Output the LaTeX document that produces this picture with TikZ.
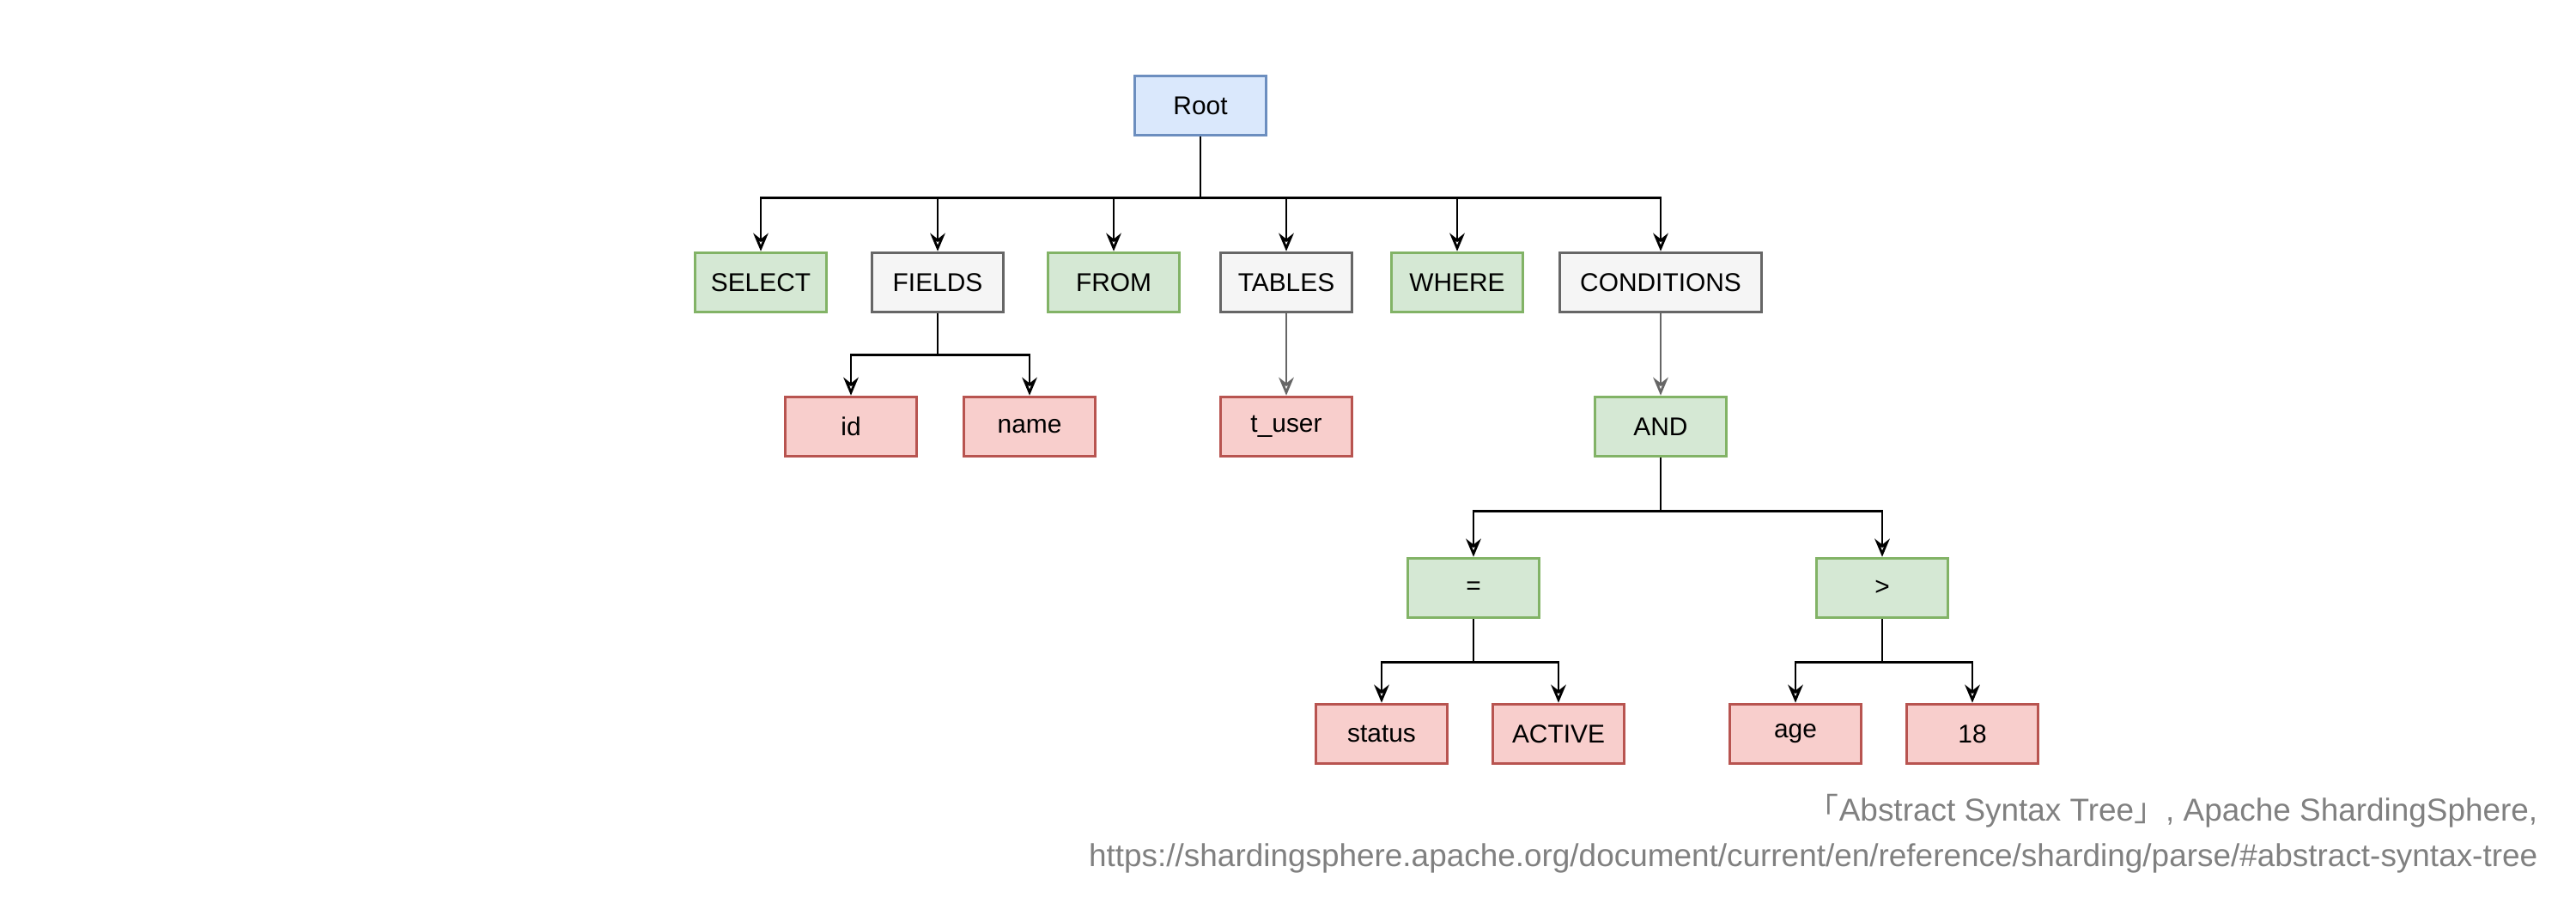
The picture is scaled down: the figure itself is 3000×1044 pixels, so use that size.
\documentclass[tikz,border=0pt]{standalone}
\usepackage{fontspec}
\setmainfont{Liberation Sans}
\newfontfamily\cjk{Noto Sans CJK JP}
\usetikzlibrary{arrows.meta}
\definecolor{bF}{HTML}{DAE8FC}\definecolor{bD}{HTML}{6C8EBF}
\definecolor{gF}{HTML}{D5E8D4}\definecolor{gD}{HTML}{82B366}
\definecolor{wF}{HTML}{F5F5F5}\definecolor{wD}{HTML}{666666}
\definecolor{rF}{HTML}{F8CECC}\definecolor{rD}{HTML}{B85450}
\definecolor{cap}{HTML}{808080}
\begin{document}
\begin{tikzpicture}[x=0.01cm,y=-0.01cm,
 box/.style={draw,line width=1pt,minimum width=1.53cm,minimum height=0.69cm,inner sep=2pt,font=\fontsize{8.5}{10}\selectfont},
 blu/.style={box,fill=bF,draw=bD},
 grn/.style={box,fill=gF,draw=gD},
 gry/.style={box,fill=wF,draw=wD},
 red/.style={box,fill=rF,draw=rD},
 ar/.style={-{Stealth[open,length=6pt,width=5pt]},line width=0.8pt,black},
 ag/.style={ar,draw=wD}]
\useasboundingbox (0,0) rectangle (3000,1044);
\node[blu] (root) at (1398,123) {Root};
\node[grn] (sel) at (886,329) {SELECT};
\node[gry] (fld) at (1092,329) {FIELDS};
\node[grn] (frm) at (1297,329) {FROM};
\node[gry] (tab) at (1498,329) {TABLES};
\node[grn] (whr) at (1697,329) {WHERE};
\node[gry,minimum width=2.35cm] (cnd) at (1934,329) {CONDITIONS};
\node[red] (id) at (991,497) {id};
\node[red] (nm) at (1199,497) {name};
\node[red] (tu) at (1498,497) {t\_user};
\node[grn] (and) at (1934,497) {AND};
\node[grn] (eq) at (1716,685) {=};
\node[grn] (gt) at (2192,685) {>};
\node[red] (st) at (1609,855) {status};
\node[red] (ac) at (1815,855) {ACTIVE};
\node[red] (ag) at (2091,855) {age};
\node[red] (n18) at (2297,855) {18};
\foreach \c in {sel,fld,frm,tab,whr,cnd}
  \draw[ar] (root.south) |- ++(0,71) -| (\c.north);
\foreach \c in {id,nm}
  \draw[ar] (fld.south) |- ++(0,48) -| (\c.north);
\draw[ag] (tab) -- (tu);
\draw[ag] (cnd) -- (and);
\foreach \c in {eq,gt}
  \draw[ar] (and.south) |- ++(0,62) -| (\c.north);
\foreach \c in {st,ac}
  \draw[ar] (eq.south) |- ++(0,50) -| (\c.north);
\foreach \c in {ag,n18}
  \draw[ar] (gt.south) |- ++(0,50) -| (\c.north);
\node[anchor=east,text=cap,font=\fontsize{10.5}{12}\selectfont,inner sep=0] (c1) at (2956,945) {{\cjk 「}Abstract Syntax Tree{\cjk 」}, Apache ShardingSphere,};
\node[anchor=east,text=cap,font=\fontsize{10.5}{12}\selectfont,inner sep=0] (c2) at (2956,1000) {https://shardingsphere.apache.org/document/current/en/reference/sharding/parse/\#abstract-syntax-tree};
\end{tikzpicture}
\end{document}
